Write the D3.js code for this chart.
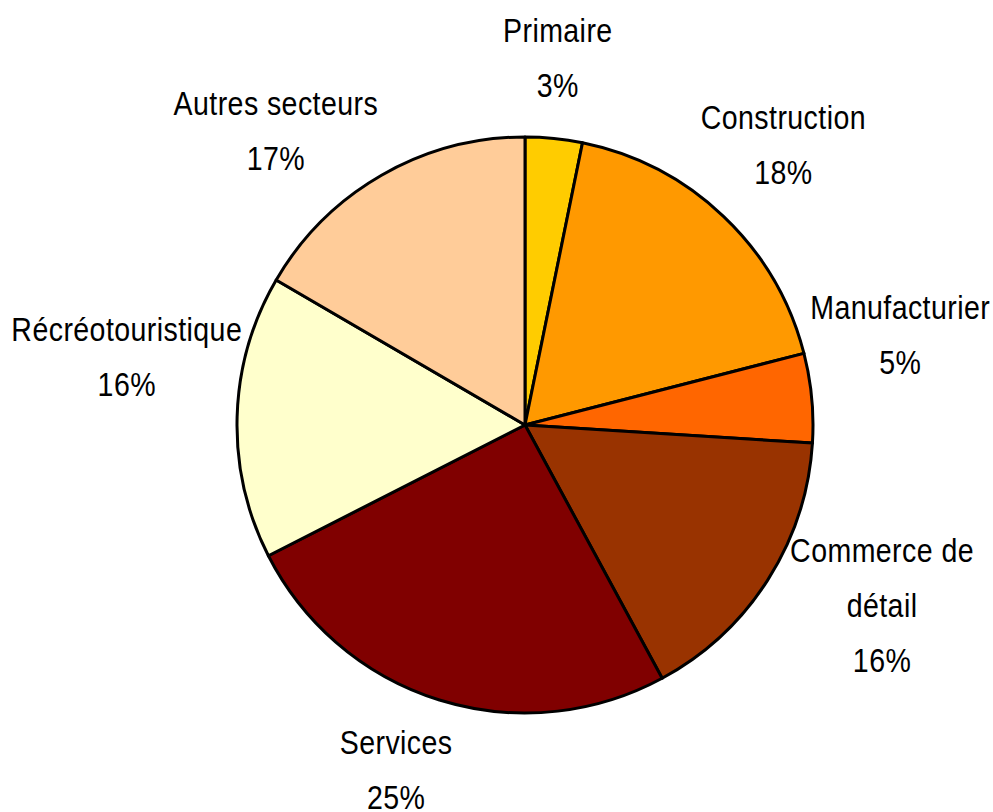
<!DOCTYPE html>
<html>
<head>
<meta charset="utf-8">
<script src="https://d3js.org/d3.v7.min.js"></script>
<style>
  html, body { margin: 0; padding: 0; background: #ffffff; }
  svg { display: block; }
  text { font-family: "Liberation Sans", Arial, sans-serif; }
</style>
</head>
<body>
<svg id="chart" width="993" height="812"></svg>
<script>
// ---- Data ----
const categories = ["Primaire", "Construction", "Manufacturier", "Commerce de détail", "Services", "Récréotouristique", "Autres secteurs"];
const values = [3.2, 17.8, 5.0, 16.1, 25.4, 15.9, 16.6];
const labelLines = [["Primaire"], ["Construction"], ["Manufacturier"], ["Commerce de", "détail"], ["Services"], ["Récréotouristique"], ["Autres secteurs"]];
const colors = ["#FFCC00", "#FF9900", "#FF6600", "#993300", "#800000", "#FFFFCC", "#FFCC99"];

// ---- Layout (label placement in polar form: angle in degrees clockwise from top, radius in px) ----
const labelLayout = [[5.1, 369], [42.7, 381], [76.4, 386], [116.8, 400], [200.5, 368], [279.7, 404], [319.8, 386]];

const width = 993, height = 812;
const cx = 525, cy = 425, radius = 288;
const fontSize = 34, lineGap = 55, narrow = 0.84;

const svg = d3.select("#chart");
const g = svg.append("g").attr("transform", `translate(${cx},${cy})`);

const pie = d3.pie().value(d => d).sort(null);
const arcs = pie(values);
const arc = d3.arc().innerRadius(0).outerRadius(radius);

g.selectAll("path.slice")
  .data(arcs)
  .join("path")
  .attr("class", "slice")
  .attr("d", arc)
  .attr("fill", (d, i) => colors[i])
  .attr("stroke", "#000")
  .attr("stroke-width", 3)
  .attr("stroke-linejoin", "round");

const total = d3.sum(values);
const labels = g.selectAll("g.label")
  .data(arcs)
  .join("g")
  .attr("class", "label")
  .attr("transform", (d, i) => {
    const a = labelLayout[i][0] * Math.PI / 180;
    const r = labelLayout[i][1];
    return `translate(${r * Math.sin(a)},${-r * Math.cos(a)}) scale(${narrow},1)`;
  });

labels.each(function (d, i) {
  const lines = labelLines[i].concat([Math.round(d.data / total * 100) + "%"]);
  const n = lines.length;
  d3.select(this).selectAll("text")
    .data(lines)
    .join("text")
    .attr("text-anchor", "middle")
    .attr("x", 0)
    .attr("y", (t, j) => (j - (n - 1) / 2) * lineGap)
    .attr("dy", "0.35em")
    .attr("font-size", fontSize)
    .attr("letter-spacing", 0.5)
    .attr("fill", "#000")
    .text(t => t);
});
</script>
</body>
</html>
